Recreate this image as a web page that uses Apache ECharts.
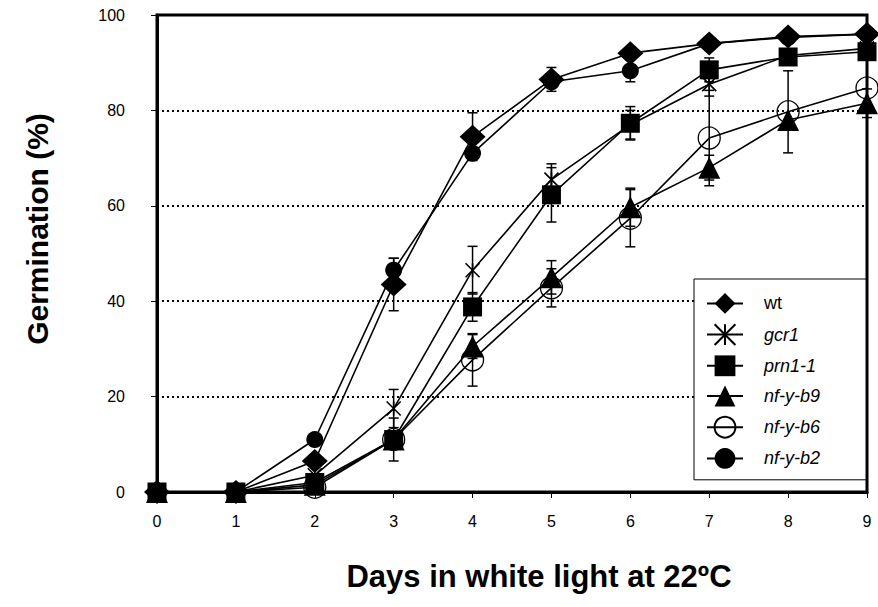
<!DOCTYPE html>
<html><head><meta charset="utf-8">
<script src="https://cdn.jsdelivr.net/npm/echarts@6/dist/echarts.min.js"></script>
<style>html,body{margin:0;padding:0;background:#fff}#c{width:878px;height:607px}</style>
</head><body><div id="c"></div>
<script>
// ---- data ----
const days = [0, 1, 2, 3, 4, 5, 6, 7, 8, 9];
const yTicks = [0, 20, 40, 60, 80, 100];
const names = ['wt', 'gcr1', 'prn1-1', 'nf-y-b9', 'nf-y-b6', 'nf-y-b2'];
const wt     = [0, 0, 6.5, 43.5, 74.5, 86.5, 92, 94, 95.5, 96];
const gcr1   = [0, 0, 3.5, 17.5, 46.5, 65.5, 77, 85.5, 91.5, 93];
const prn1   = [0, 0, 2, 11, 38.8, 62.3, 77.3, 88.5, 91.2, 92.3];
const nfyb9  = [0, 0, 1.5, 11, 30.5, 45, 59.7, 68, 78, 81.5];
const nfyb6  = [0, 0, 1, 11, 27.7, 42.8, 57.4, 74.2, 79.7, 84.7];
const nfyb2  = [0, 0, 11, 46.5, 71, 86, 88.3, 94, 95.3, 96];
// symmetric error (+/-)
const errWt   = [0, 0, 0, 5.5, 5, 2.5, 0, 0, 0, 0];
const errGcr1 = [0, 0, 0, 4, 5, 3.3, 3, 2.5, 0, 0];
const errPrn1 = [0, 0, 0, 4.5, 3, 5.7, 3.5, 2.5, 0, 0];
const errB9   = [0, 0, 0, 0, 2.5, 3.5, 4, 2.6, 0, 3];
const errB6   = [0, 0, 0, 0, 5.5, 4, 6, 10, 8.6, 0];
const errB2   = [0, 0, 0, 2.5, 0, 0, 2.3, 0, 0, 0];

const FONT = '"Liberation Sans", Arial, Helvetica, sans-serif';
const values = [wt, gcr1, prn1, nfyb9, nfyb6, nfyb2];
const errs = [errWt, errGcr1, errPrn1, errB9, errB6, errB2];

const styles = {
  'wt':      { symbol: 'diamond', size: [26, 24], item: { color: '#000' } },
  'gcr1':    { symbol: 'path://M0,0L10,10M10,0L0,10M5,0L5,10', size: 14, item: { color: 'rgba(0,0,0,0)', borderColor: '#000', borderWidth: 1.6 } },
  'prn1-1':  { symbol: 'rect', size: 19, item: { color: '#000' } },
  'nf-y-b9': { symbol: 'triangle', size: 22, item: { color: '#000' } },
  'nf-y-b6': { symbol: 'circle', size: 22, item: { color: 'rgba(0,0,0,0)', borderColor: '#000', borderWidth: 1.3 } },
  'nf-y-b2': { symbol: 'circle', size: 17, item: { color: '#000' } }
};
const zOrder = { 'wt': 4, 'gcr1': 5, 'prn1-1': 9, 'nf-y-b9': 6, 'nf-y-b6': 3, 'nf-y-b2': 3 };
// points whose marker is hidden beneath the stacked markers at the origin
const hideMarkerUntil = { 'nf-y-b6': 2 };

const series = names.map((n, i) => ({
  name: n,
  type: 'line',
  data: days.map((d, j) => {
    const p = { value: [d, values[i][j]] };
    if (hideMarkerUntil[n] !== undefined && d < hideMarkerUntil[n]) p.symbol = 'none';
    return p;
  }),
  symbol: styles[n].symbol,
  symbolSize: styles[n].size,
  itemStyle: styles[n].item,
  lineStyle: { color: '#000', width: 1.6 },
  clip: false,
  z: zOrder[n],
  animation: false
}));

const errData = [];
names.forEach((n, i) => {
  days.forEach((d, j) => {
    const e = errs[i][j];
    if (e > 0) errData.push([d, values[i][j] - e, values[i][j] + e]);
  });
});
series.push({
  type: 'custom',
  name: 'err',
  z: 2,
  clip: false,
  animation: false,
  data: errData,
  encode: { x: 0, y: [1, 2] },
  renderItem: function (params, api) {
    const lo = api.coord([api.value(0), api.value(1)]);
    const hi = api.coord([api.value(0), api.value(2)]);
    const w = 5;
    const st = { stroke: '#000', lineWidth: 1.5 };
    return {
      type: 'group',
      children: [
        { type: 'line', shape: { x1: lo[0], y1: lo[1], x2: hi[0], y2: hi[1] }, style: st },
        { type: 'line', shape: { x1: lo[0] - w, y1: lo[1], x2: lo[0] + w, y2: lo[1] }, style: st },
        { type: 'line', shape: { x1: hi[0] - w, y1: hi[1], x2: hi[0] + w, y2: hi[1] }, style: st }
      ]
    };
  }
});

const chart = echarts.init(document.getElementById('c'), null, { renderer: 'svg' });
chart.setOption({
  animation: false,
  backgroundColor: '#fff',
  grid: { left: 157, right: 11, top: 15, bottom: 115, show: true, borderColor: '#000', borderWidth: 3, backgroundColor: 'transparent' },
  xAxis: {
    type: 'value', min: 0, max: 9, interval: 1,
    axisLine: { show: true, onZero: false, lineStyle: { color: '#000', width: 3 } },
    axisTick: { show: true, inside: false, length: 6, lineStyle: { color: '#000', width: 1 } },
    axisLabel: { color: '#000', fontSize: 16, fontFamily: FONT, margin: 21 },
    splitLine: { show: false }
  },
  yAxis: {
    type: 'value', min: 0, max: 100, interval: 20,
    axisLine: { show: true, lineStyle: { color: '#000', width: 3 } },
    axisTick: { show: true, inside: false, length: 6, lineStyle: { color: '#000', width: 1 } },
    axisLabel: { color: '#000', fontSize: 16, fontFamily: FONT, margin: 32,
      formatter: v => (yTicks.indexOf(v) >= 0 ? String(v) : '') },
    splitLine: { show: true, lineStyle: { color: '#000', width: 2, type: [2, 3] } }
  },
  legend: {
    orient: 'vertical',
    left: 694, top: 279,
    data: names,
    itemWidth: 36, itemHeight: 26, itemGap: 9.4,
    padding: [14, 46, 11, 12],
    backgroundColor: '#fff',
    borderColor: '#000', borderWidth: 1,
    formatter: n => (n === 'wt' ? '{n|' + n + '}' : '{i|' + n + '}'),
    textStyle: {
      color: '#000', fontSize: 18, fontFamily: FONT,
      rich: {
        n: { fontSize: 18, fontFamily: FONT, color: '#000', padding: [0, 0, 0, 16] },
        i: { fontSize: 18, fontFamily: FONT, color: '#000', fontStyle: 'italic', padding: [0, 0, 0, 16] }
      }
    },
    z: 20
  },
  graphic: [
    { type: 'text', x: 539, y: 576, z: 30,
      style: { text: 'Days in white light at 22ºC', font: 'bold 31px ' + FONT, fill: '#000', align: 'center', verticalAlign: 'middle' } },
    { type: 'text', x: 37, y: 229, rotation: Math.PI / 2, z: 30,
      style: { text: 'Germination (%)', font: 'bold 30px ' + FONT, fill: '#000', align: 'center', verticalAlign: 'middle' } }
  ],
  series: series
});
</script>
</body></html>
